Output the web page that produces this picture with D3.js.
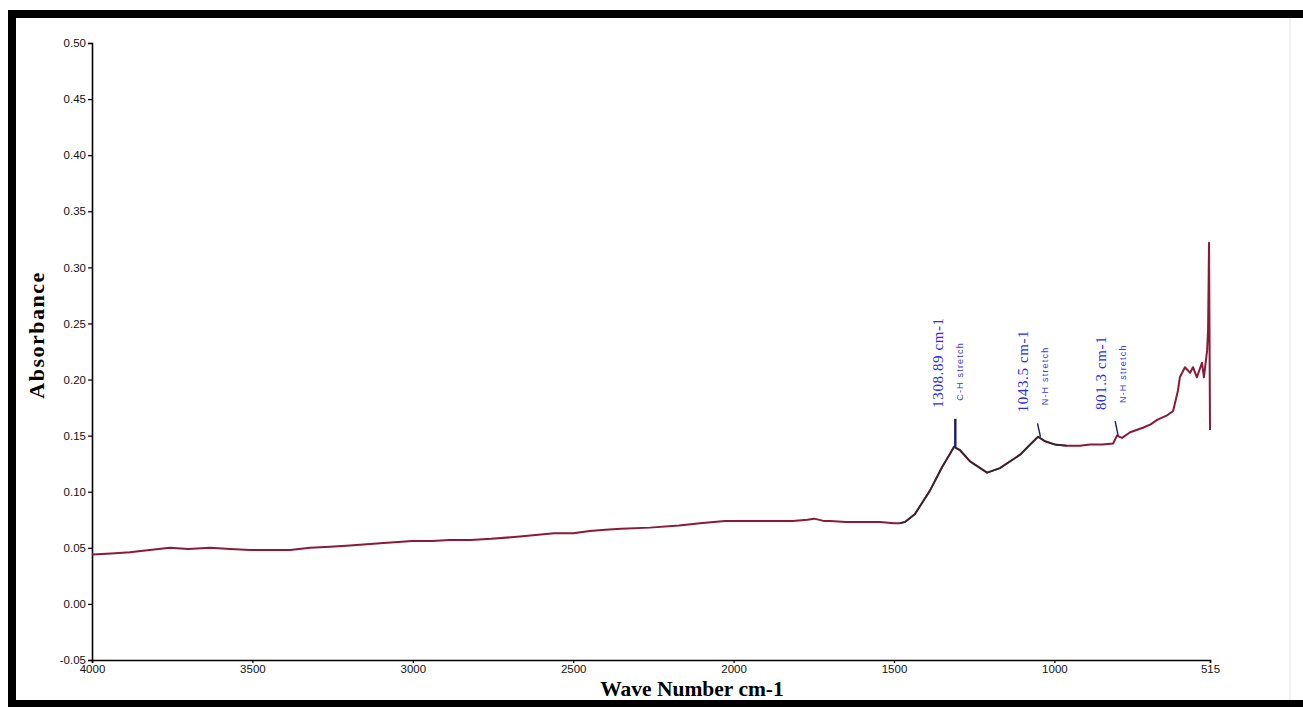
<!DOCTYPE html>
<html>
<head>
<meta charset="utf-8">
<script src="https://cdn.jsdelivr.net/npm/d3@7"></script>
<style>
    body { margin: 0; background: #fff; }
    #chart-area { width: 1303px; height: 707px; }
</style>
</head>
<body>
<div id="chart-area"></div>
<script>
/* * * * * * * * * * * * * *
*       SpectrumVis        *
* * * * * * * * * * * * * */

// wave numbers (cm-1) and absorbance
const waveNumbers = [4000, 3940, 3882, 3820, 3757, 3700, 3632, 3570, 3507, 3450,
    3383, 3320, 3258, 3196, 3102, 3002, 2940, 2884, 2820, 2756,
    2666, 2560, 2500, 2448, 2400, 2351, 2261, 2170, 2105, 2027,
    1960, 1918, 1860, 1815, 1770, 1749, 1720, 1699, 1650, 1606,
    1544, 1500, 1481, 1466, 1435, 1388, 1350, 1325, 1313, 1294,
    1263, 1210, 1170, 1107, 1076, 1051, 1029, 998, 961, 920,
    889, 850, 817, 805, 789, 764, 724, 700, 680, 649,
    630, 615, 609, 593, 577, 568, 556, 540, 534, 524,
    521, 518, 515];
const absorbance = [0.044, 0.045, 0.046, 0.048, 0.050, 0.049, 0.050, 0.049, 0.048, 0.048,
    0.048, 0.050, 0.051, 0.052, 0.054, 0.056, 0.056, 0.057, 0.057, 0.058,
    0.060, 0.063, 0.063, 0.065, 0.066, 0.067, 0.068, 0.070, 0.072, 0.074,
    0.074, 0.074, 0.074, 0.074, 0.075, 0.076, 0.074, 0.074, 0.073, 0.073,
    0.073, 0.072, 0.072, 0.073, 0.080, 0.101, 0.122, 0.134, 0.140, 0.137,
    0.127, 0.117, 0.121, 0.133, 0.142, 0.149, 0.145, 0.142, 0.141, 0.141,
    0.142, 0.142, 0.143, 0.150, 0.148, 0.153, 0.157, 0.160, 0.164, 0.168,
    0.172, 0.190, 0.202, 0.211, 0.206, 0.211, 0.202, 0.215, 0.202, 0.226,
    0.244, 0.322, 0.155];

// axis ticks
const xTicks = [4000, 3500, 3000, 2500, 2000, 1500, 1000, 515];
const yTicks = [-0.05, 0, 0.05, 0.10, 0.15, 0.20, 0.25, 0.30, 0.35, 0.40, 0.45, 0.50];

// peak annotations
const peakWn = [1308.89, 1043.5, 801.3];
const peakBase = [0.140, 0.149, 0.150];
const peakTop = [0.165, 0.161, 0.163];
const peakLabels = ["1308.89 cm-1", "1043.5 cm-1", "801.3 cm-1"];
const peakNotes = ["C-H stretch", "N-H stretch", "N-H stretch"];

class SpectrumVis {

    constructor(parentElement) {
        this.parentElement = parentElement;
        this.initVis();
    }

    initVis() {
        let vis = this;

        vis.width = 1303;
        vis.height = 707;

        vis.svg = d3.select(`#${vis.parentElement}`).append("svg")
            .attr("width", vis.width)
            .attr("height", vis.height);

        // outer frame (thick black on top / left / bottom, faint on right)
        vis.svg.append("rect").attr("x", 8).attr("y", 10).attr("width", 1295).attr("height", 8).attr("fill", "#000");
        vis.svg.append("rect").attr("x", 8).attr("y", 10).attr("width", 8).attr("height", 697).attr("fill", "#000");
        vis.svg.append("rect").attr("x", 8).attr("y", 700).attr("width", 1295).attr("height", 7).attr("fill", "#000");
        vis.svg.append("line").attr("x1", 1290).attr("x2", 1290).attr("y1", 18).attr("y2", 700)
            .style("stroke", "#e4e4e4").style("stroke-width", 1);

        // scales (wave number runs right to left)
        vis.x = d3.scaleLinear().domain([4000, 515]).range([92, 1210]);
        vis.y = d3.scaleLinear().domain([-0.05, 0.50]).range([660, 43]);

        vis.line = d3.line()
            .x(d => vis.x(d.wn))
            .y(d => vis.y(d.a));

        vis.wrangleData();
    }

    wrangleData() {
        let vis = this;
        vis.spectrum = waveNumbers.map((wn, i) => ({ wn: wn, a: absorbance[i] }));
        vis.midSection = vis.spectrum.filter(d => d.wn <= 1481 && d.wn >= 961);
        vis.updateVis();
    }

    updateVis() {
        let vis = this;
        const fmt = v => d3.format(".2f")(v).replace("\u2212", "-");

        // y axis
        const yAxis = d3.axisLeft(vis.y).tickValues(yTicks).tickSize(4).tickPadding(2).tickFormat(fmt);
        const gy = vis.svg.append("g")
            .attr("transform", `translate(${vis.x(4000)},0)`)
            .call(yAxis);

        // x axis
        const xAxis = d3.axisBottom(vis.x).tickValues(xTicks).tickSize(3).tickPadding(2).tickFormat(d3.format("d"));
        const gx = vis.svg.append("g")
            .attr("transform", `translate(0,${vis.y(-0.05)})`)
            .call(xAxis);

        [gx, gy].forEach(g => {
            g.select(".domain").style("stroke", "#000").style("stroke-width", 1.6);
            g.selectAll(".tick line").style("stroke", "#000").style("stroke-width", 1.2);
            g.selectAll(".tick text")
                .style("font-family", "'Liberation Sans', Arial, sans-serif")
                .style("font-size", "11.5px")
                .style("fill", "#111");
        });

        // spectrum: dark red trace with the darker overlay through the peak region
        vis.svg.append("path")
            .datum(vis.spectrum)
            .attr("d", vis.line)
            .style("fill", "none")
            .style("stroke", "#8a1a38")
            .style("stroke-width", 2)
            .style("stroke-linejoin", "round");

        vis.svg.append("path")
            .datum(vis.midSection)
            .attr("d", vis.line)
            .style("fill", "none")
            .style("stroke", "#2a2a2a")
            .style("stroke-width", 1.6)
            .style("stroke-linejoin", "round");

        // peak markers and labels
        peakWn.forEach((wn, i) => {
            const px = vis.x(wn);
            const top = vis.y(peakTop[i]);

            vis.svg.append("line")
                .attr("x1", px).attr("x2", px - (i === 0 ? 0 : 3))
                .attr("y1", vis.y(peakBase[i])).attr("y2", top)
                .style("stroke", "#1a1a6e")
                .style("stroke-width", i === 0 ? 2.4 : 1.4);

            vis.svg.append("text")
                .attr("transform", `translate(${px - 12},${top - 11}) rotate(-90)`)
                .attr("text-anchor", "start")
                .style("font-family", "'Liberation Serif', 'Times New Roman', serif")
                .style("font-size", "15px")
                .style("letter-spacing", "0.6px")
                .style("fill", "#2b2bf0")
                .text(peakLabels[i]);

            vis.svg.append("text")
                .attr("transform", `translate(${px + 8},${top - 18}) rotate(-90)`)
                .attr("text-anchor", "start")
                .style("font-family", "'Liberation Sans', Arial, sans-serif")
                .style("font-size", "9px")
                .style("letter-spacing", "1.2px")
                .style("fill", "#3a3ae0")
                .text(peakNotes[i]);
        });

        // axis titles
        vis.svg.append("text")
            .attr("transform", "translate(44,335) rotate(-90)")
            .attr("text-anchor", "middle")
            .style("font-family", "'Liberation Serif', 'Times New Roman', serif")
            .style("font-weight", "bold")
            .style("font-size", "22px")
            .style("letter-spacing", "1.5px")
            .style("fill", "#000")
            .text("Absorbance");

        vis.svg.append("text")
            .attr("x", 692)
            .attr("y", 696)
            .attr("text-anchor", "middle")
            .style("font-family", "'Liberation Serif', 'Times New Roman', serif")
            .style("font-weight", "bold")
            .style("font-size", "21.5px")
            .style("fill", "#000")
            .text("Wave Number cm-1");
    }
}

new SpectrumVis("chart-area");
</script>
</body>
</html>
